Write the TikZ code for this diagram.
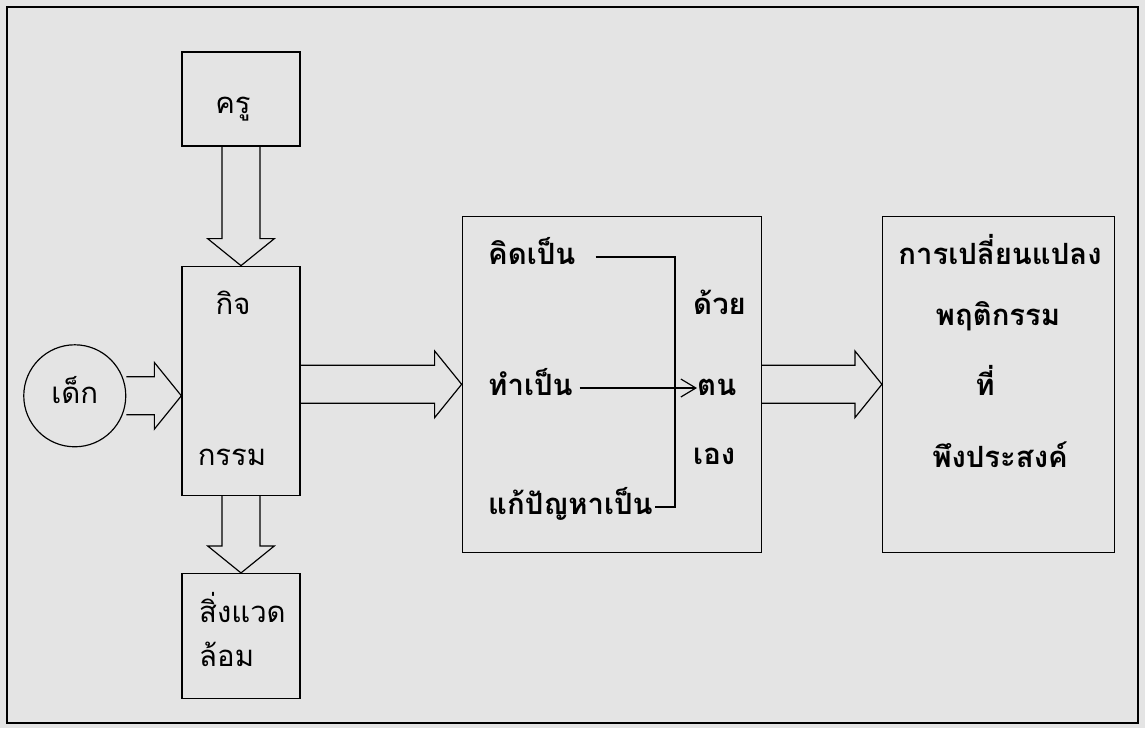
\documentclass[tikz,border=0pt]{standalone}
\usepackage{fontspec}
\newfontfamily\thai[Script=Thai]{Loma}
\usetikzlibrary{arrows.meta,positioning,calc}
\definecolor{scan}{RGB}{228,228,228}

\begin{document}
\begin{tikzpicture}[
  box/.style={draw, line width=1.1pt, minimum width=3.54cm, inner sep=0pt},
  bigbox/.style={draw, line width=1.1pt, minimum width=8.97cm, minimum height=10.08cm},
  kidring/.style={draw, circle, line width=1pt, minimum size=3.06cm, inner sep=0pt, text height=13pt, text depth=0pt, font=\thai\fontsize{25}{30}\selectfont},
  lbl/.style={inner sep=0pt, text height=13pt, text depth=0pt, font=\thai\fontsize{25}{30}\selectfont},
  boldlbl/.style={lbl, font=\thai\bfseries\fontsize{25}{30}\selectfont},
  fatright/.style={line width=1pt, to path={let \p1=(\tikztostart), \p2=(\tikztotarget) in
    (\x1,\y1+0.57cm) -- (\x2-0.81cm,\y1+0.57cm) -- (\x2-0.81cm,\y1+1cm) -- (\x2,\y1)
    -- (\x2-0.81cm,\y1-1cm) -- (\x2-0.81cm,\y1-0.57cm) -- (\x1,\y1-0.57cm)}},
  fatdown/.style={line width=1pt, to path={let \p1=(\tikztostart), \p2=(\tikztotarget) in
    (\x1-0.57cm,\y1) -- (\x1-0.57cm,\y2+0.81cm) -- (\x1-1cm,\y2+0.81cm) -- (\x1,\y2)
    -- (\x1+1cm,\y2+0.81cm) -- (\x1+0.57cm,\y2+0.81cm) -- (\x1+0.57cm,\y1)}},
  link/.style={line width=1pt},
  barb/.style={-{Straight Barb[length=4.5mm,width=5.4mm]}, line width=1pt}
]

% scanned page and frame
\fill[scan] (0,0) rectangle (34.35,-21.84);
\draw[line width=1.1pt] (0.21,-0.21) rectangle (34.14,-21.69);

% left column
\node[box, minimum height=2.82cm] (teacher) at (7.23,-2.97) {};
\node[box, minimum height=6.87cm, below=3.57cm of teacher] (act) {};
\node[box, minimum height=3.75cm, below=2.31cm of act] (env) {};
\node[kidring, left=1.65cm of act, yshift=-0.45cm] (kid) {เด็ก};

\node[lbl] (teacherA) at (6.99,-3.18) {ครู};
\node[lbl] (actA) at (6.99,-9.21) {กิจ};
\node[lbl] (actB) at (6.96,-13.74) {กรรม};
\node[lbl, anchor=west] (envA) at (5.97,-18.45) {สิ่งแวด};
\node[lbl, anchor=west] (envB) at (5.97,-19.77) {ล้อม};

\draw[fatdown] (teacher.south) to (act.north);
\draw[fatdown] (act.south) to (env.north);
\draw[fatright] (kid.east) to (act.west);

% middle box
\node[bigbox, right=4.83cm of act, yshift=-0.105cm] (mid) {};
\node[boldlbl, anchor=west] (think) at (14.64,-7.71) {คิดเป็น};
\node[boldlbl, anchor=west] (do) at (14.64,-11.64) {ทำเป็น};
\node[boldlbl, anchor=west] (solve) at (14.64,-15.21) {แก้ปัญหาเป็น};
\node[boldlbl, anchor=west] (by) at (20.79,-9.21) {ด้วย};
\node[boldlbl, anchor=west] (self) at (20.91,-11.64) {ตน};
\node[boldlbl, anchor=west] (own) at (20.79,-13.71) {เอง};

\coordinate (join) at (20.25,-11.64);
\draw[link] ([xshift=6mm]think.east) -| (join) |- ([xshift=0.5mm]solve.east);
\draw[barb] ([xshift=2mm]do.east) -- (self.west);

\draw[fatright] (act.east |- mid.west) to (mid.west);

% right box
\node[bigbox, minimum width=6.96cm, right=3.6cm of mid] (res) {};
\node[boldlbl] (resA) at (30.0,-7.71) {การเปลี่ยนแปลง};
\node[boldlbl] (resB) at (29.94,-9.54) {พฤติกรรม};
\node[boldlbl] (resC) at (29.55,-11.64) {ที่};
\node[boldlbl] (resD) at (30.0,-13.8) {พึงประสงค์};

\draw[fatright] (mid.east) to (res.west);

\end{tikzpicture}
\end{document}
